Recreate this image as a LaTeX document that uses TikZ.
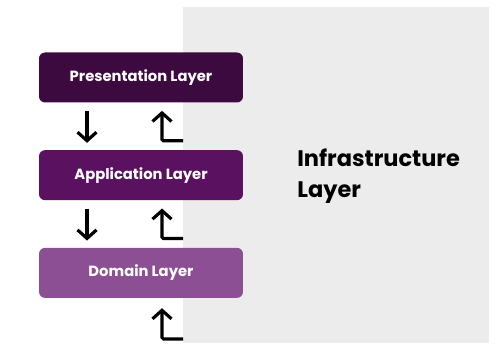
\documentclass[tikz,border=0pt]{standalone}
\usepackage{fontspec}
\setmainfont{Poppins}
\usepackage{tikz}
\usetikzlibrary{arrows.meta,positioning,calc}
\definecolor{LayerDark}{HTML}{3D0A40}
\definecolor{LayerMid}{HTML}{5A1260}
\definecolor{LayerLight}{HTML}{8C4F93}
\definecolor{InfraGray}{HTML}{ECECEC}
\tikzset{
  layerbox/.style={rounded corners=1.2mm,minimum width=4.08cm,minimum height=1.0cm,
    text=white,inner sep=0pt,font=\fontsize{8.4}{10}\selectfont\bfseries},
  flowarrow/.style={-{Straight Barb[length=1.7mm,width=3.8mm,line width=1.8pt]},line width=1.8pt,black},
  infralabel/.style={font=\fontsize{12.8}{17.8}\selectfont\bfseries,align=left,inner sep=0pt}
}
\begin{document}
\begin{tikzpicture}[x=0.02cm,y=-0.02cm]
  \useasboundingbox (0,0) rectangle (500,350);

  \node[fill=InfraGray,minimum width=6.12cm,minimum height=6.72cm,inner sep=0pt,anchor=north west] (infra) at (183,7) {};
  \node[infralabel,anchor=west] (infratext) at (297,176) {Infrastructure\\Layer};

  \node[layerbox,fill=LayerDark] (present) at (141,77.5) {Presentation Layer};
  \node[layerbox,fill=LayerMid,below=0.94cm of present] (app) {Application Layer};
  \node[layerbox,fill=LayerLight,below=0.94cm of app] (domain) {Domain Layer};

  % downward calls
  \draw[flowarrow,shorten <=0.16cm,shorten >=0.14cm] ([xshift=-1.08cm]present.south) -- ([xshift=-1.08cm]app.north);
  \draw[flowarrow,shorten <=0.16cm,shorten >=0.14cm] ([xshift=-1.08cm]app.south) -- ([xshift=-1.08cm]domain.north);

  % returns from the infrastructure side
  \coordinate (ret1) at ($(infra.west |- app.north)+(0,-9)$);
  \coordinate (ret2) at ($(infra.west |- domain.north)+(0,-9)$);
  \coordinate (ret3) at (183,339);
  \draw[flowarrow,rounded corners=0.3mm] (ret1) -| ([xshift=0.42cm,yshift=-0.16cm]present.south);
  \draw[flowarrow,rounded corners=0.3mm] (ret2) -| ([xshift=0.42cm,yshift=-0.16cm]app.south);
  \draw[flowarrow,rounded corners=0.3mm] (ret3) -| ([xshift=0.42cm,yshift=-0.2cm]domain.south);
\end{tikzpicture}
\end{document}
